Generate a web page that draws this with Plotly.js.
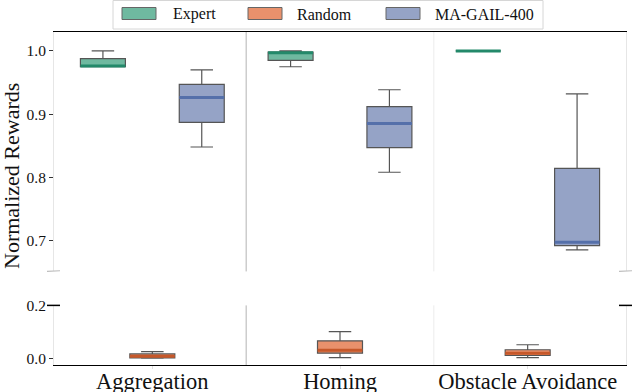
<!DOCTYPE html>
<html>
<head>
<meta charset="utf-8">
<script src="https://cdn.plot.ly/plotly-3.0.1.min.js"></script>
<style>
  body { margin: 0; background: #fff; }
  #chart { width: 632px; height: 392px; }
</style>
</head>
<body>
<div id="chart"></div>
<script>
// tasks on the x axis
let tasks = ["Aggregation", "Homing", "Obstacle Avoidance"];

// box stats (lower whisker, q1, median, q3, upper whisker)
let expertLow = [0.975, 0.975, 1.0];
let expertQ1 = [0.975, 0.985, 1.0];
let expertMed = [0.976, 0.997, 1.0];
let expertQ3 = [0.988, 0.998, 1.0];
let expertHigh = [1.0, 1.0, 1.0];

let randomLow = [0.0, 0.002, 0.002];
let randomQ1 = [0.001, 0.019, 0.010];
let randomMed = [0.007, 0.030, 0.019];
let randomQ3 = [0.016, 0.066, 0.032];
let randomHigh = [0.025, 0.101, 0.051];

let gailLow = [0.848, 0.808, 0.685];
let gailQ1 = [0.887, 0.847, 0.692];
let gailMed = [0.9265, 0.885, 0.697];
let gailQ3 = [0.947, 0.912, 0.814];
let gailHigh = [0.970, 0.9386, 0.932];

let seriesNames = ["Expert", "Random", "MA-GAIL-400"];

// styles
let fills = ["#6fb9a0", "#e9916c", "#95a3c6"];
let medColors = ["#23896a", "#c6582a", "#5570aa"];
let stats = [
  [expertLow, expertQ1, expertMed, expertQ3, expertHigh],
  [randomLow, randomQ1, randomMed, randomQ3, randomHigh],
  [gailLow, gailQ1, gailMed, gailQ3, gailHigh],
];

let data = [];
// 上下2段（破断軸）にそれぞれ同じ箱を描く
[["x", "y"], ["x2", "y2"]].forEach(function (ax) {
  stats.forEach(function (s, i) {
    data.push({
      type: "box",
      x: tasks,
      lowerfence: s[0], q1: s[1], median: s[2], q3: s[3], upperfence: s[4],
      name: seriesNames[i],
      offsetgroup: "g" + i,
      fillcolor: fills[i],
      line: { color: "#555555", width: 1.2 },
      whiskerwidth: 0.5,
      showlegend: false,
      hoverinfo: "skip",
      xaxis: ax[0], yaxis: ax[1],
    });
    // 中央値の太線
    data.push({
      type: "box",
      x: tasks,
      lowerfence: s[2], q1: s[2], median: s[2], q3: s[2], upperfence: s[2],
      name: seriesNames[i] + " median",
      offsetgroup: "g" + i,
      fillcolor: "rgba(0,0,0,0)",
      line: { color: medColors[i], width: 3 },
      whiskerwidth: 0.5,
      showlegend: false,
      hoverinfo: "skip",
      xaxis: ax[0], yaxis: ax[1],
    });
  });
});

let serif = "Liberation Serif, Times New Roman, serif";
let topBottom = 0.281;
let lowTop = 0.179;

// ピクセル → paper 座標
let L = 54, W = 572, B = 365, H = 333;
function px(v) { return (v - L) / W; }
function py(v) { return (B - v) / H; }

let shapes = [];
let annotations = [];
// 区切り線
[["x", "y"], ["x2", "y2"]].forEach(function (ax) {
  shapes.push({ type: "line", xref: ax[0], yref: ax[1] + " domain", x0: 0.5, x1: 0.5, y0: 0, y1: 1,
    line: { color: "#b3b3b3", width: 1 } });
  shapes.push({ type: "line", xref: ax[0], yref: ax[1] + " domain", x0: 1.5, x1: 1.5, y0: 0, y1: 1,
    line: { color: "#ececec", width: 1 } });
});
// 破断マーク
shapes.push({ type: "line", xref: "paper", yref: "paper", x0: px(47), x1: px(60), y0: topBottom, y1: topBottom + 0.002,
  line: { color: "#bdbdbd", width: 1.2 } });
shapes.push({ type: "line", xref: "paper", yref: "paper", x0: px(619), x1: px(632), y0: topBottom, y1: topBottom + 0.002,
  line: { color: "#bdbdbd", width: 1.2 } });
shapes.push({ type: "line", xref: "paper", yref: "paper", x0: px(47), x1: px(60), y0: lowTop, y1: lowTop,
  line: { color: "#000", width: 1.5 } });
shapes.push({ type: "line", xref: "paper", yref: "paper", x0: px(619), x1: px(632), y0: lowTop, y1: lowTop,
  line: { color: "#000", width: 1.5 } });

// 凡例（手描き）
shapes.push({ type: "rect", xref: "paper", yref: "paper", x0: px(113), x1: px(543), y0: py(0.5), y1: py(29),
  fillcolor: "#fff", line: { color: "#d6d6d6", width: 1 } });
let swatchX = [122, 248, 386];
let textX = [171, 295, 433];
seriesNames.forEach(function (n, i) {
  shapes.push({ type: "rect", xref: "paper", yref: "paper", x0: px(swatchX[i]), x1: px(swatchX[i] + 34),
    y0: py(7.5), y1: py(19.5), fillcolor: fills[i], line: { color: "#666", width: 1 } });
  annotations.push({ text: n, xref: "paper", yref: "paper", x: px(textX[i]), y: py(14),
    xanchor: "left", yanchor: "middle", showarrow: false,
    font: { family: serif, size: 16, color: "#111" } });
});

annotations.push({
  text: "Normalized Rewards",
  xref: "paper", yref: "paper",
  x: px(11), y: py(176),
  xanchor: "center", yanchor: "middle",
  textangle: -90,
  showarrow: false,
  font: { family: serif, size: 22, color: "#111" },
});

let xRange = [-0.524, 2.524];

let layout = {
  width: 632,
  height: 392,
  margin: { l: 54, r: 6, t: 32, b: 27 },
  paper_bgcolor: "#fff",
  plot_bgcolor: "#fff",
  font: { family: serif, color: "#111" },
  boxmode: "group",
  boxgap: 0.21,
  boxgroupgap: 0.09,
  showlegend: false,
  xaxis: {
    domain: [0, 1],
    anchor: "y",
    side: "top",
    type: "category",
    categoryorder: "array",
    categoryarray: tasks,
    range: xRange,
    showticklabels: false,
    ticks: "",
    showgrid: false,
    zeroline: false,
    showline: true,
    linecolor: "#000",
    linewidth: 1.3,
  },
  xaxis2: {
    matches: "x",
    anchor: "y2",
    side: "bottom",
    type: "category",
    categoryorder: "array",
    categoryarray: tasks,
    range: xRange,
    ticks: "outside",
    ticklen: 3,
    tickcolor: "#e0e0e0",
    ticklabelstandoff: -7,
    tickfont: { family: serif, size: 22.5, color: "#111" },
    showgrid: false,
    zeroline: false,
    showline: true,
    linecolor: "#000",
    linewidth: 1.3,
  },
  yaxis: {
    domain: [topBottom, 1],
    anchor: "x",
    range: [0.651, 1.03],
    dtick: 0.1,
    tick0: 0,
    tickformat: ".1f",
    ticks: "outside",
    ticklen: 4,
    tickcolor: "#333",
    tickfont: { family: serif, size: 15.5, color: "#111" },
    showgrid: false,
    zeroline: false,
    showline: true,
    mirror: true,
    linecolor: "#e6e6e6",
  },
  yaxis2: {
    domain: [0, lowTop],
    anchor: "x2",
    range: [-0.026, 0.2005],
    dtick: 0.2,
    tick0: 0,
    tickformat: ".1f",
    ticks: "outside",
    ticklen: 4,
    tickcolor: "#333",
    tickfont: { family: serif, size: 15.5, color: "#111" },
    showgrid: false,
    zeroline: false,
    showline: true,
    mirror: true,
    linecolor: "#e6e6e6",
  },
  shapes: shapes,
  annotations: annotations,
};

Plotly.newPlot("chart", data, layout, { displayModeBar: false, staticPlot: true });
</script>
</body>
</html>
